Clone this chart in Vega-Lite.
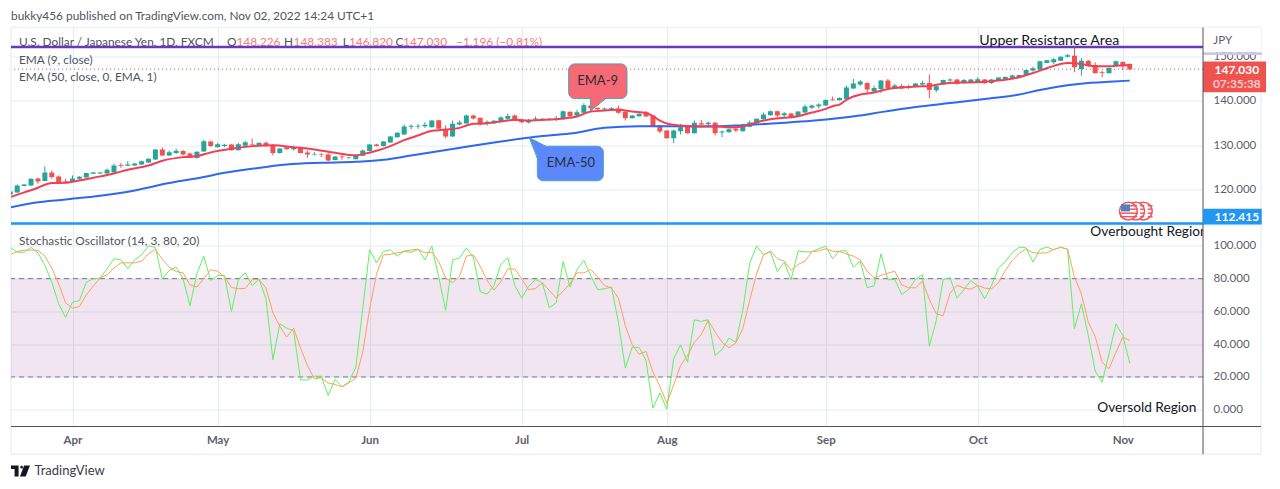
{
"$schema":"https://vega.github.io/schema/vega-lite/v6.json",
"background":"white",
"padding":{"left":9,"top":10.5,"right":0,"bottom":0},
"bounds":"flush",
"spacing":0,
"config":{"font":"Lato","view":{"stroke":null},"axis":{"title":null,"grid":true,"gridColor":"#e1ecf2","gridWidth":1,"domain":false,"ticks":false,"labelFont":"Lato","labelFontSize":11.5,"labelColor":"#5d606b"}},
"datasets":{
"one":[{"n":1}],
"bars":[
{"i":-9,"o":118.93,"h":119.7,"l":118.8,"c":119.61,"k":99.2,"d":94.7},
{"i":-8,"o":119.38,"h":121.18,"l":119.31,"c":120.95,"k":96.1,"d":96.5},
{"i":-7,"o":120.8,"h":121.3,"l":120.7,"c":121.18,"k":96.1,"d":97.4},
{"i":-6,"o":120.95,"h":122.5,"l":120.9,"c":122.44,"k":99.0,"d":97.4},
{"i":-5,"o":122.52,"h":122.6,"l":121.32,"c":121.85,"k":95.7,"d":97.2},
{"i":-4,"o":121.92,"h":125.21,"l":121.9,"c":123.86,"k":88.0,"d":93.7},
{"i":-3,"o":123.86,"h":124.31,"l":122.45,"c":122.82,"k":77.8,"d":86.4},
{"i":-2,"o":122.97,"h":123.19,"l":121.47,"c":121.62,"k":64.6,"d":76.8},
{"i":-1,"o":121.85,"h":122.45,"l":121.47,"c":121.7,"k":56.3,"d":65.2},
{"i":0,"o":121.77,"h":123.19,"l":121.7,"c":122.52,"k":65.6,"d":62.0},
{"i":1,"o":122.45,"h":123.04,"l":122.07,"c":122.89,"k":66.6,"d":63.0},
{"i":2,"o":122.74,"h":123.8,"l":122.7,"c":123.71,"k":77.8,"d":70.1},
{"i":3,"o":123.56,"h":124.0,"l":123.5,"c":123.86,"k":79.9,"d":75.4},
{"i":4,"o":123.64,"h":123.95,"l":123.55,"c":123.86,"k":80.3,"d":80.5},
{"i":5,"o":123.64,"h":124.76,"l":123.55,"c":124.46,"k":86.0,"d":82.3},
{"i":6,"o":123.86,"h":125.81,"l":123.8,"c":125.43,"k":92.1,"d":86.4},
{"i":7,"o":125.51,"h":125.96,"l":124.91,"c":125.36,"k":91.5,"d":89.6},
{"i":8,"o":125.36,"h":126.4,"l":125.28,"c":125.66,"k":86.0,"d":89.6},
{"i":9,"o":125.43,"h":126.0,"l":125.3,"c":125.88,"k":91.5,"d":89.6},
{"i":10,"o":125.66,"h":126.5,"l":125.6,"c":126.4,"k":94.5,"d":90.6},
{"i":11,"o":126.1,"h":127.0,"l":126.0,"c":126.93,"k":100,"d":95.1},
{"i":12,"o":126.78,"h":129.1,"l":126.7,"c":129.02,"k":99.0,"d":97.8},
{"i":13,"o":129.02,"h":129.47,"l":127.52,"c":127.67,"k":79.9,"d":91.7},
{"i":14,"o":127.67,"h":128.79,"l":127.6,"c":128.42,"k":85.0,"d":87.0},
{"i":15,"o":128.2,"h":129.17,"l":128.05,"c":128.72,"k":87.0,"d":84.3},
{"i":16,"o":128.65,"h":128.94,"l":127.67,"c":127.9,"k":79.9,"d":83.5},
{"i":17,"o":128.12,"h":128.35,"l":127.08,"c":127.15,"k":63.4,"d":76.2},
{"i":18,"o":127.08,"h":128.6,"l":127.0,"c":128.5,"k":82.9,"d":74.8},
{"i":19,"o":128.57,"h":131.19,"l":128.5,"c":130.89,"k":93.7,"d":79.9},
{"i":20,"o":130.81,"h":130.96,"l":129.54,"c":129.77,"k":78.9,"d":85.4},
{"i":21,"o":129.54,"h":130.44,"l":129.5,"c":130.21,"k":81.9,"d":84.5},
{"i":22,"o":129.77,"h":130.29,"l":129.54,"c":130.06,"k":81.9,"d":80.9},
{"i":23,"o":130.14,"h":130.2,"l":128.8,"c":128.87,"k":59.9,"d":74.6},
{"i":24,"o":128.87,"h":130.51,"l":128.8,"c":130.21,"k":79.3,"d":73.8},
{"i":25,"o":129.84,"h":130.9,"l":129.7,"c":130.66,"k":83.5,"d":74.0},
{"i":26,"o":130.21,"h":131.48,"l":129.92,"c":130.06,"k":75.8,"d":79.3},
{"i":27,"o":129.92,"h":130.6,"l":129.85,"c":130.51,"k":79.5,"d":79.5},
{"i":28,"o":130.51,"h":130.81,"l":129.54,"c":129.77,"k":67.7,"d":74.2},
{"i":29,"o":129.99,"h":130.14,"l":127.67,"c":128.2,"k":30.5,"d":59.1},
{"i":30,"o":128.2,"h":129.3,"l":128.1,"c":129.24,"k":52.4,"d":51.0},
{"i":31,"o":129.54,"h":129.7,"l":129.0,"c":129.09,"k":49.8,"d":44.3},
{"i":32,"o":129.09,"h":129.84,"l":128.79,"c":129.47,"k":48.2,"d":49.8},
{"i":33,"o":129.54,"h":129.6,"l":128.1,"c":128.2,"k":18.3,"d":37.6},
{"i":34,"o":128.35,"h":128.79,"l":127.15,"c":127.9,"k":18.1,"d":27.0},
{"i":35,"o":127.82,"h":128.42,"l":127.67,"c":127.97,"k":20.5,"d":18.9},
{"i":36,"o":127.9,"h":128.2,"l":127.3,"c":127.75,"k":20.5,"d":19.5},
{"i":37,"o":127.9,"h":128.2,"l":126.33,"c":126.55,"k":8.7,"d":16.4},
{"i":38,"o":126.63,"h":127.5,"l":126.55,"c":127.45,"k":18.5,"d":15.4},
{"i":39,"o":127.45,"h":127.9,"l":126.7,"c":127.3,"k":14.2,"d":14.0},
{"i":40,"o":127.08,"h":127.4,"l":126.9,"c":127.23,"k":16.8,"d":16.4},
{"i":41,"o":126.85,"h":127.9,"l":126.8,"c":127.82,"k":26.0,"d":19.3},
{"i":42,"o":127.6,"h":129.0,"l":127.5,"c":128.79,"k":61.6,"d":35.1},
{"i":43,"o":128.65,"h":130.2,"l":128.6,"c":130.14,"k":97.6,"d":61.6},
{"i":44,"o":130.14,"h":130.3,"l":129.7,"c":129.77,"k":89.6,"d":82.9},
{"i":45,"o":129.77,"h":130.9,"l":129.7,"c":130.81,"k":96.5,"d":94.5},
{"i":46,"o":130.59,"h":132.0,"l":130.5,"c":131.93,"k":97.6,"d":94.7},
{"i":47,"o":131.78,"h":132.9,"l":131.7,"c":132.75,"k":93.7,"d":95.7},
{"i":48,"o":132.38,"h":134.62,"l":132.3,"c":134.17,"k":96.9,"d":96.5},
{"i":49,"o":134.1,"h":134.62,"l":133.5,"c":134.32,"k":97.4,"d":96.1},
{"i":50,"o":134.17,"h":134.77,"l":133.65,"c":134.32,"k":98.0,"d":97.8},
{"i":51,"o":134.25,"h":135.14,"l":133.87,"c":134.55,"k":91.5,"d":95.7},
{"i":52,"o":134.02,"h":135.6,"l":133.95,"c":135.52,"k":99.8,"d":96.1},
{"i":53,"o":135.59,"h":135.67,"l":133.58,"c":133.65,"k":80.9,"d":90.4},
{"i":54,"o":133.58,"h":134.47,"l":131.48,"c":131.93,"k":60.6,"d":80.3},
{"i":55,"o":131.93,"h":135.52,"l":131.9,"c":134.77,"k":91.3,"d":77.4},
{"i":56,"o":134.62,"h":135.52,"l":134.47,"c":135.07,"k":92.5,"d":81.5},
{"i":57,"o":134.85,"h":136.86,"l":134.8,"c":136.64,"k":98.6,"d":93.7},
{"i":58,"o":136.64,"h":136.86,"l":135.74,"c":135.97,"k":93.1,"d":94.5},
{"i":59,"o":136.12,"h":136.2,"l":134.4,"c":134.62,"k":72.1,"d":87.6},
{"i":60,"o":134.85,"h":135.52,"l":134.4,"c":135.22,"k":70.5,"d":78.9},
{"i":61,"o":134.85,"h":135.6,"l":134.8,"c":135.44,"k":75.8,"d":73.0},
{"i":62,"o":135.29,"h":136.49,"l":135.2,"c":136.19,"k":88.8,"d":78.2},
{"i":63,"o":135.89,"h":137.09,"l":135.67,"c":136.56,"k":92.7,"d":86.0},
{"i":64,"o":136.64,"h":136.86,"l":135.37,"c":135.52,"k":75.8,"d":85.8},
{"i":65,"o":135.74,"h":135.89,"l":134.92,"c":135.14,"k":68.1,"d":79.9},
{"i":66,"o":135.07,"h":135.89,"l":134.85,"c":135.52,"k":75.2,"d":73.2},
{"i":67,"o":135.74,"h":136.41,"l":135.44,"c":135.97,"k":79.5,"d":74.0},
{"i":68,"o":135.74,"h":136.1,"l":135.6,"c":135.89,"k":77.4,"d":77.4},
{"i":69,"o":135.67,"h":136.0,"l":135.5,"c":135.89,"k":62.2,"d":72.8},
{"i":70,"o":135.74,"h":136.56,"l":135.37,"c":135.97,"k":65.2,"d":68.1},
{"i":71,"o":135.82,"h":137.76,"l":135.8,"c":137.61,"k":90.4,"d":72.4},
{"i":72,"o":137.46,"h":137.53,"l":136.12,"c":136.49,"k":74.8,"d":76.8},
{"i":73,"o":136.64,"h":137.91,"l":136.41,"c":137.39,"k":85.4,"d":83.5},
{"i":74,"o":137.24,"h":139.4,"l":137.2,"c":138.95,"k":91.1,"d":83.5},
{"i":75,"o":138.88,"h":139.03,"l":137.61,"c":138.28,"k":81.9,"d":85.6},
{"i":76,"o":138.36,"h":138.4,"l":137.9,"c":138.06,"k":73.2,"d":80.9},
{"i":77,"o":137.98,"h":138.43,"l":137.9,"c":138.21,"k":73.8,"d":75.8},
{"i":78,"o":137.91,"h":138.51,"l":137.8,"c":138.28,"k":74.8,"d":74.2},
{"i":79,"o":138.21,"h":138.88,"l":137.01,"c":137.24,"k":53.4,"d":68.1},
{"i":80,"o":137.46,"h":137.76,"l":135.52,"c":136.04,"k":25.4,"d":51.4},
{"i":81,"o":136.04,"h":136.7,"l":136.0,"c":136.64,"k":38.2,"d":39.6},
{"i":82,"o":136.49,"h":137.1,"l":136.4,"c":137.01,"k":38.0,"d":33.9},
{"i":83,"o":137.24,"h":137.61,"l":136.3,"c":136.41,"k":30.1,"d":35.6},
{"i":84,"o":136.64,"h":136.7,"l":134.2,"c":134.25,"k":1.0,"d":22.9},
{"i":85,"o":134.4,"h":134.55,"l":132.68,"c":133.05,"k":10.3,"d":14.4},
{"i":86,"o":133.28,"h":133.4,"l":131.5,"c":131.56,"k":0.4,"d":4.0},
{"i":87,"o":131.56,"h":133.43,"l":130.44,"c":133.28,"k":31.1,"d":15.2},
{"i":88,"o":133.13,"h":134.77,"l":132.38,"c":134.02,"k":39.6,"d":27.0},
{"i":89,"o":134.4,"h":134.5,"l":132.6,"c":132.68,"k":29.0,"d":33.1},
{"i":90,"o":132.68,"h":135.52,"l":132.6,"c":134.99,"k":54.9,"d":41.2},
{"i":91,"o":134.92,"h":135.67,"l":134.17,"c":134.62,"k":53.9,"d":45.9},
{"i":92,"o":134.7,"h":135.29,"l":134.02,"c":134.99,"k":54.9,"d":54.5},
{"i":93,"o":134.99,"h":135.22,"l":132.16,"c":132.68,"k":33.1,"d":47.3},
{"i":94,"o":132.83,"h":133.28,"l":131.78,"c":133.05,"k":36.8,"d":41.2},
{"i":95,"o":132.9,"h":133.7,"l":132.8,"c":133.58,"k":43.7,"d":37.8},
{"i":96,"o":133.65,"h":134.4,"l":132.9,"c":133.28,"k":41.2,"d":40.8},
{"i":97,"o":133.13,"h":134.77,"l":133.05,"c":134.17,"k":60.6,"d":49.4},
{"i":98,"o":134.1,"h":135.52,"l":134.0,"c":135.07,"k":89.4,"d":66.7},
{"i":99,"o":134.85,"h":136.0,"l":134.8,"c":135.89,"k":100,"d":82.9},
{"i":100,"o":135.82,"h":137.31,"l":135.7,"c":136.86,"k":94.5,"d":94.5},
{"i":101,"o":136.71,"h":137.76,"l":136.6,"c":137.61,"k":96.5,"d":96.9},
{"i":102,"o":137.61,"h":137.76,"l":135.89,"c":136.64,"k":84.3,"d":92.1},
{"i":103,"o":136.71,"h":137.39,"l":136.12,"c":137.16,"k":90.0,"d":90.6},
{"i":104,"o":137.09,"h":137.24,"l":136.04,"c":136.19,"k":79.3,"d":85.0},
{"i":105,"o":136.49,"h":137.6,"l":136.4,"c":137.53,"k":96.9,"d":88.6},
{"i":106,"o":137.31,"h":139.1,"l":137.2,"c":138.65,"k":96.3,"d":90.6},
{"i":107,"o":138.36,"h":139.1,"l":138.06,"c":138.88,"k":96.3,"d":96.5},
{"i":108,"o":138.73,"h":139.4,"l":138.21,"c":139.1,"k":98.2,"d":96.9},
{"i":109,"o":138.88,"h":140.3,"l":138.8,"c":140.15,"k":99.8,"d":98.2},
{"i":110,"o":140.22,"h":140.9,"l":140.0,"c":140.07,"k":92.1,"d":96.7},
{"i":111,"o":140.07,"h":140.7,"l":140.0,"c":140.6,"k":96.9,"d":96.5},
{"i":112,"o":140.37,"h":143.36,"l":140.3,"c":142.91,"k":96.9,"d":95.1},
{"i":113,"o":142.69,"h":144.86,"l":142.6,"c":143.81,"k":87.0,"d":93.7},
{"i":114,"o":143.59,"h":144.63,"l":143.29,"c":144.26,"k":90.6,"d":91.3},
{"i":115,"o":143.96,"h":144.1,"l":141.64,"c":142.47,"k":74.4,"d":84.5},
{"i":116,"o":142.02,"h":143.36,"l":141.9,"c":142.84,"k":75.6,"d":80.5},
{"i":117,"o":142.61,"h":144.63,"l":141.64,"c":144.48,"k":95.1,"d":81.9},
{"i":118,"o":144.48,"h":144.86,"l":142.76,"c":142.84,"k":79.3,"d":83.3},
{"i":119,"o":142.69,"h":143.74,"l":142.61,"c":143.36,"k":79.5,"d":84.5},
{"i":120,"o":143.29,"h":143.74,"l":142.54,"c":142.76,"k":70.3,"d":76.2},
{"i":121,"o":142.99,"h":143.59,"l":142.61,"c":143.21,"k":73.4,"d":74.4},
{"i":122,"o":143.06,"h":143.9,"l":143.0,"c":143.81,"k":79.5,"d":74.4},
{"i":123,"o":143.59,"h":144.48,"l":143.36,"c":143.96,"k":82.3,"d":78.4},
{"i":124,"o":143.96,"h":145.83,"l":140.52,"c":142.39,"k":38.8,"d":67.3},
{"i":125,"o":142.32,"h":143.44,"l":141.87,"c":143.21,"k":54.5,"d":58.5},
{"i":126,"o":143.59,"h":144.7,"l":143.5,"c":144.63,"k":79.5,"d":57.3},
{"i":127,"o":144.48,"h":145.0,"l":143.74,"c":144.71,"k":80.5,"d":71.1},
{"i":128,"o":144.71,"h":144.86,"l":143.59,"c":143.74,"k":68.1,"d":76.0},
{"i":129,"o":144.03,"h":144.86,"l":143.74,"c":144.63,"k":73.2,"d":74.2},
{"i":130,"o":144.18,"h":144.8,"l":144.1,"c":144.71,"k":78.9,"d":73.6},
{"i":131,"o":144.18,"h":145.23,"l":144.1,"c":144.78,"k":75.4,"d":75.8},
{"i":132,"o":144.71,"h":144.8,"l":143.8,"c":143.88,"k":67.7,"d":74.2},
{"i":133,"o":143.96,"h":144.86,"l":143.74,"c":144.71,"k":75.8,"d":73.8},
{"i":134,"o":144.48,"h":145.2,"l":144.4,"c":145.15,"k":86.4,"d":77.4},
{"i":135,"o":144.78,"h":145.4,"l":144.7,"c":145.3,"k":90.4,"d":85.0},
{"i":136,"o":145.08,"h":145.83,"l":145.0,"c":145.6,"k":95.7,"d":91.1},
{"i":137,"o":145.23,"h":145.8,"l":145.2,"c":145.75,"k":99.2,"d":95.3},
{"i":138,"o":145.6,"h":146.9,"l":145.5,"c":146.87,"k":98.8,"d":98.2},
{"i":139,"o":146.72,"h":147.62,"l":146.5,"c":147.25,"k":90.0,"d":95.7},
{"i":140,"o":146.95,"h":148.9,"l":146.9,"c":148.81,"k":97.8,"d":95.5},
{"i":141,"o":148.44,"h":149.1,"l":148.4,"c":149.04,"k":99.2,"d":95.7},
{"i":142,"o":148.59,"h":149.56,"l":148.22,"c":149.26,"k":97.6,"d":97.8},
{"i":143,"o":148.96,"h":149.9,"l":148.9,"c":149.86,"k":99.2,"d":99.0},
{"i":144,"o":149.86,"h":150.46,"l":149.71,"c":150.16,"k":97.8,"d":98.0},
{"i":145,"o":150.08,"h":151.95,"l":146.35,"c":147.47,"k":49.4,"d":80.9},
{"i":146,"o":147.1,"h":149.56,"l":145.6,"c":148.96,"k":64.6,"d":70.7},
{"i":147,"o":148.96,"h":149.11,"l":147.62,"c":147.69,"k":45.3,"d":53.4},
{"i":148,"o":147.99,"h":148.59,"l":146.1,"c":146.13,"k":23.6,"d":44.7},
{"i":149,"o":146.35,"h":146.72,"l":145.23,"c":146.2,"k":16.8,"d":29.0},
{"i":150,"o":146.13,"h":147.4,"l":146.1,"c":147.32,"k":34.1,"d":25.0},
{"i":151,"o":147.84,"h":148.96,"l":147.8,"c":148.81,"k":52.4,"d":35.1},
{"i":152,"o":148.67,"h":148.81,"l":146.87,"c":147.69,"k":45.3,"d":44.3},
{"i":153,"o":148.226,"h":148.383,"l":146.82,"c":147.03,"k":28.4,"d":42.3}
],
"ema9":[
{"i":-9,"p":118.34},{"i":-7,"p":119.38},{"i":-5,"p":120.43},{"i":-4,"p":121.1},{"i":-3,"p":121.47},{"i":-1,"p":121.55},{"i":1,"p":122.07},{"i":3,"p":122.67},{"i":6,"p":123.64},{"i":8,"p":124.46},{"i":11,"p":125.43},{"i":13,"p":126.48},{"i":16,"p":127.3},{"i":18,"p":127.52},{"i":20,"p":128.35},{"i":23,"p":129.17},{"i":26,"p":129.77},{"i":29,"p":129.99},{"i":32,"p":129.54},{"i":35,"p":129.02},{"i":38,"p":128.27},{"i":41,"p":127.67},{"i":42,"p":127.97},{"i":44,"p":128.72},{"i":46,"p":129.77},{"i":48,"p":131.11},{"i":50,"p":132.16},{"i":52,"p":133.2},{"i":54,"p":133.5},{"i":56,"p":133.87},{"i":57,"p":134.4},{"i":58,"p":134.77},{"i":60,"p":134.92},{"i":62,"p":135.29},{"i":64,"p":135.67},{"i":66,"p":135.52},{"i":69,"p":135.74},{"i":71,"p":135.97},{"i":73,"p":136.41},{"i":75,"p":137.53},{"i":77,"p":137.76},{"i":79,"p":137.91},{"i":81,"p":137.53},{"i":83,"p":137.24},{"i":84,"p":136.49},{"i":85,"p":135.52},{"i":86,"p":134.85},{"i":88,"p":134.4},{"i":90,"p":134.17},{"i":93,"p":134.25},{"i":95,"p":133.95},{"i":97,"p":134.17},{"i":99,"p":135.14},{"i":101,"p":135.82},{"i":103,"p":136.12},{"i":105,"p":136.49},{"i":107,"p":137.31},{"i":109,"p":138.13},{"i":110,"p":138.73},{"i":111,"p":139.1},{"i":112,"p":140.15},{"i":113,"p":140.9},{"i":114,"p":141.34},{"i":116,"p":141.79},{"i":118,"p":142.61},{"i":120,"p":142.91},{"i":123,"p":143.21},{"i":124,"p":143.29},{"i":126,"p":143.81},{"i":128,"p":144.03},{"i":131,"p":144.11},{"i":134,"p":144.48},{"i":137,"p":145.23},{"i":139,"p":146.2},{"i":141,"p":147.25},{"i":143,"p":148.22},{"i":144,"p":148.44},{"i":146,"p":148.22},{"i":148,"p":147.69},{"i":150,"p":147.69},{"i":152,"p":147.92},{"i":153,"p":147.92}
],
"ema50":[
{"i":-9,"p":116.02},{"i":-5.5,"p":117.07},{"i":-1,"p":117.81},{"i":4,"p":118.64},{"i":9,"p":119.83},{"i":14,"p":121.47},{"i":19,"p":122.82},{"i":21,"p":123.49},{"i":26,"p":124.69},{"i":31,"p":125.66},{"i":36,"p":126.03},{"i":41,"p":126.26},{"i":45,"p":126.7},{"i":49,"p":127.67},{"i":52,"p":128.42},{"i":57,"p":129.62},{"i":62,"p":130.81},{"i":67,"p":131.86},{"i":72,"p":132.6},{"i":77,"p":133.87},{"i":82,"p":134.25},{"i":87,"p":134.25},{"i":92,"p":134.17},{"i":97,"p":134.47},{"i":102,"p":134.92},{"i":107,"p":135.44},{"i":112,"p":136.25},{"i":114,"p":136.65},{"i":117,"p":137.4},{"i":122,"p":138.55},{"i":127,"p":139.45},{"i":132,"p":140.37},{"i":137,"p":141.34},{"i":140,"p":142.39},{"i":144,"p":143.44},{"i":147,"p":143.96},{"i":150,"p":144.2},{"i":153,"p":144.48}
]
},
"vconcat":[
{
"width":1192,"height":196,
"layer":[
{"data":{"name":"one"},"mark":{"type":"rect","fill":null,"stroke":"#f0f3fa","strokeWidth":2},
 "encoding":{
  "x":{"datum":-8.9,"type":"quantitative","scale":{"domain":[-8.9,163.6],"nice":false,"zero":false,"padding":0},"axis":{"values":[0,21,43,65,86,109,131,152],"labels":false}},
  "x2":{"datum":172},
  "y":{"datum":156.4,"type":"quantitative","scale":{"domain":[112.4,156.4],"nice":false,"zero":false},"axis":{"orient":"right","values":[120,130,140,150],"format":".3f","labelPadding":10}},
  "y2":{"datum":112.4}}},
{"data":{"values":[
 {"t":"U.S. Dollar / Japanese Yen, 1D, FXCM","i":-7.74,"p":153.07},
 {"t":"O","i":22.35,"p":153.07},{"t":"H","i":30.6,"p":153.07},{"t":"L","i":39.1,"p":153.07},{"t":"C","i":46.75,"p":153.07},
 {"t":"EMA (9, close)","i":-7.74,"p":149.19},
 {"t":"EMA (50, close, 0, EMA, 1)","i":-7.74,"p":145.38},
 {"t":"bukky456 published on TradingView.com, Nov 02, 2022 14:24 UTC+1","i":-8.9,"p":159.06}
 ]},
 "mark":{"type":"text","align":"left","baseline":"middle","fontSize":11.85,"color":"#50535e"},
 "encoding":{"x":{"field":"i","type":"quantitative"},"y":{"field":"p","type":"quantitative"},"text":{"field":"t"}}},
{"data":{"values":[
 {"t":"148.226","i":23.73,"p":153.07},{"t":"148.383","i":32.0,"p":153.07},{"t":"146.820","i":40.0,"p":153.07},{"t":"147.030","i":47.83,"p":153.07},{"t":"−1.196 (−0.81%)","i":55.5,"p":153.07}
 ]},
 "mark":{"type":"text","align":"left","baseline":"middle","fontSize":11.85,"color":"#f27c7a"},
 "encoding":{"x":{"field":"i","type":"quantitative"},"y":{"field":"p","type":"quantitative"},"text":{"field":"t"}}},
{"data":{"name":"one"},"mark":{"type":"rule","color":"#ef5350","strokeWidth":1,"strokeDash":[1,3]},"encoding":{"y":{"datum":147.03}}},
{"data":{"name":"one"},"mark":{"type":"rule","color":"#673ab7","strokeWidth":2.5},"encoding":{"y":{"datum":152}}},
{"data":{"name":"bars"},"mark":{"type":"rule","strokeWidth":1,"clip":true},
 "encoding":{"x":{"field":"i","type":"quantitative"},"y":{"field":"l","type":"quantitative"},"y2":{"field":"h"},
  "color":{"condition":{"test":"datum.c>=datum.o","value":"#26a69a"},"value":"#ef5350"}}},
{"data":{"name":"bars"},"mark":{"type":"bar","size":5,"clip":true},
 "encoding":{"x":{"field":"i","type":"quantitative"},"y":{"field":"o","type":"quantitative"},"y2":{"field":"c"},
  "color":{"condition":{"test":"datum.c>=datum.o","value":"#26a69a"},"value":"#ef5350"}}},
{"data":{"name":"ema50"},"mark":{"type":"line","color":"#2f66f2","strokeWidth":2,"interpolate":"monotone","clip":true},
 "encoding":{"x":{"field":"i","type":"quantitative"},"y":{"field":"p","type":"quantitative"}}},
{"data":{"name":"ema9"},"mark":{"type":"line","color":"#f23f55","strokeWidth":2,"interpolate":"monotone","clip":true},
 "encoding":{"x":{"field":"i","type":"quantitative"},"y":{"field":"p","type":"quantitative"}}},
{"data":{"values":[{"t":"Upper Resistance Area","i":141.35,"p":153.45}]},
 "mark":{"type":"text","align":"center","baseline":"middle","fontSize":14.2,"color":"#131722"},
 "encoding":{"x":{"field":"i","type":"quantitative"},"y":{"field":"p","type":"quantitative"},"text":{"field":"t"}}},
{"data":{"values":[{"a":71.8,"b":80.24,"p":148.23,"q":140.45}]},
 "mark":{"type":"rect","fill":"#f56a75","stroke":"#4fa3b5","strokeWidth":1,"cornerRadius":6},
 "encoding":{"x":{"field":"a","type":"quantitative"},"x2":{"field":"b"},"y":{"field":"p","type":"quantitative"},"y2":{"field":"q"}}},
{"data":{"values":[{"i":74.93,"p":140.6,"q":140.6},{"i":75.03,"p":140.6,"q":137.76},{"i":77.2,"p":140.6,"q":140.6}]},
 "mark":{"type":"area","fill":"#f56a75"},
 "encoding":{"x":{"field":"i","type":"quantitative"},"y":{"field":"p","type":"quantitative"},"y2":{"field":"q"}}},
{"data":{"values":[{"i":74.93,"p":140.45},{"i":75.03,"p":137.76},{"i":77.2,"p":140.45}]},
 "mark":{"type":"line","color":"#4fa3b5","strokeWidth":1},
 "encoding":{"x":{"field":"i","type":"quantitative"},"y":{"field":"p","type":"quantitative"}}},
{"data":{"values":[{"a":67.27,"b":76.82,"p":129.75,"q":122.0}]},
 "mark":{"type":"rect","fill":"#5b88fb","stroke":"#4fa3b5","strokeWidth":1,"cornerRadius":6},
 "encoding":{"x":{"field":"a","type":"quantitative"},"x2":{"field":"b"},"y":{"field":"p","type":"quantitative"},"y2":{"field":"q"}}},
{"data":{"values":[{"i":66.11,"p":131.64,"q":131.64},{"i":67.4,"p":130.7,"q":126.9},{"i":68.5,"p":129.6,"q":129.6}]},
 "mark":{"type":"area","fill":"#5b88fb"},
 "encoding":{"x":{"field":"i","type":"quantitative"},"y":{"field":"p","type":"quantitative"},"y2":{"field":"q"}}},
{"data":{"values":[{"e":"a","i":66.11,"p":131.64},{"e":"a","i":68.5,"p":129.75},{"e":"b","i":66.11,"p":131.64},{"e":"b","i":67.27,"p":127.0}]},
 "mark":{"type":"line","color":"#4fa3b5","strokeWidth":1},
 "encoding":{"x":{"field":"i","type":"quantitative"},"y":{"field":"p","type":"quantitative"},"detail":{"field":"e"}}},
{"data":{"values":[{"t":"EMA-9","i":76.0,"p":144.48},{"t":"EMA-50","i":72.14,"p":125.99}]},
 "mark":{"type":"text","align":"center","baseline":"middle","fontSize":13,"color":"#2a2e39"},
 "encoding":{"x":{"field":"i","type":"quantitative"},"y":{"field":"p","type":"quantitative"},"text":{"field":"t"}}},
{"data":{"values":[{"i":154.96},{"i":153.87},{"i":152.8}]},
 "mark":{"type":"point","shape":"circle","filled":true,"fill":"#ffffff","stroke":"#f0575d","strokeWidth":1.5,"size":314,"opacity":1},
 "encoding":{"x":{"field":"i","type":"quantitative"},"y":{"datum":115.18,"type":"quantitative"}}},
{"data":{"values":[
 {"a":153.05,"b":154.06,"p":116.57,"q":116.23},{"a":153.05,"b":154.2,"p":115.78,"q":115.45},{"a":151.45,"b":154.2,"p":114.89,"q":114.55},{"a":151.59,"b":154.06,"p":114.1,"q":113.77},
 {"a":154.5,"b":155.1,"p":116.57,"q":116.23},{"a":154.5,"b":155.1,"p":115.78,"q":115.45},{"a":154.5,"b":155.1,"p":114.89,"q":114.55},{"a":154.5,"b":155.1,"p":114.1,"q":113.77},
 {"a":155.6,"b":156.3,"p":116.57,"q":116.23},{"a":155.6,"b":156.3,"p":115.78,"q":115.45},{"a":155.6,"b":156.3,"p":114.89,"q":114.55},{"a":155.6,"b":156.3,"p":114.1,"q":113.77}
 ]},
 "mark":{"type":"rect","fill":"#f0575d"},
 "encoding":{"x":{"field":"a","type":"quantitative"},"x2":{"field":"b"},"y":{"field":"p","type":"quantitative"},"y2":{"field":"q"}}},
{"data":{"values":[{"a":151.74,"b":153.05,"p":116.68,"q":115.11}]},
 "mark":{"type":"rect","fill":"#4f7fc4"},
 "encoding":{"x":{"field":"a","type":"quantitative"},"x2":{"field":"b"},"y":{"field":"p","type":"quantitative"},"y2":{"field":"q"}}},
{"data":{"values":[{"a":163.6,"b":172,"p":156.3,"q":150.87}]},
 "mark":{"type":"rect","fill":"#ffffff"},
 "encoding":{"x":{"field":"a","type":"quantitative"},"x2":{"field":"b"},"y":{"field":"p","type":"quantitative"},"y2":{"field":"q"}}},
{"data":{"values":[{"a":163.6,"b":172.1,"p":150.87,"q":150.2}]},
 "mark":{"type":"rect","fill":"#d1c4e9"},
 "encoding":{"x":{"field":"a","type":"quantitative"},"x2":{"field":"b"},"y":{"field":"p","type":"quantitative"},"y2":{"field":"q"}}},
{"data":{"values":[{"a":163.6,"b":172.72,"p":148.74,"q":141.86}]},
 "mark":{"type":"rect","fill":"#ef5350"},
 "encoding":{"x":{"field":"a","type":"quantitative"},"x2":{"field":"b"},"y":{"field":"p","type":"quantitative"},"y2":{"field":"q"}}},
{"data":{"values":[{"t":"147.030","i":168.5,"p":146.79}]},
 "mark":{"type":"text","align":"center","baseline":"middle","fontSize":12,"fontWeight":"bold","color":"#ffffff"},
 "encoding":{"x":{"field":"i","type":"quantitative"},"y":{"field":"p","type":"quantitative"},"text":{"field":"t"}}},
{"data":{"values":[{"t":"07:35:38","i":168.5,"p":143.65}]},
 "mark":{"type":"text","align":"center","baseline":"middle","fontSize":12,"fontWeight":"bold","color":"#fbc9c8"},
 "encoding":{"x":{"field":"i","type":"quantitative"},"y":{"field":"p","type":"quantitative"},"text":{"field":"t"}}},
{"data":{"values":[{"t":"JPY","i":165.1,"p":153.3}]},
 "mark":{"type":"text","align":"left","baseline":"middle","fontSize":11.5,"color":"#5d606b"},
 "encoding":{"x":{"field":"i","type":"quantitative"},"y":{"field":"p","type":"quantitative"},"text":{"field":"t"}}},
{"data":{"name":"one"},"mark":{"type":"rule","color":"#50535e","strokeWidth":1},"encoding":{"x":{"datum":163.6}}}
]
},
{
"width":1192,"height":203,
"layer":[
{"data":{"name":"one"},"mark":{"type":"rect","fill":null,"stroke":"#f0f3fa","strokeWidth":2},
 "encoding":{
  "x":{"datum":-8.9,"type":"quantitative","scale":{"domain":[-8.9,163.6],"nice":false,"zero":false},"axis":{"values":[0,21,43,65,86,109,131,152],"labelPadding":8,"labelFontWeight":"bold","labelExpr":"['Apr','May','Jun','Jul','Aug','Sep','Oct','Nov'][indexof([0,21,43,65,86,109,131,152],datum.value)]"}},
  "x2":{"datum":172},
  "y":{"datum":112.9,"type":"quantitative","scale":{"domain":[-10.2,113.6],"nice":false,"zero":false},"axis":{"orient":"right","values":[0,20,40,60,80,100],"format":".3f","labelPadding":10}},
  "y2":{"datum":-27.1}}},
{"data":{"name":"one"},"mark":{"type":"rect","fill":"#8a2b8a","opacity":0.12},"encoding":{"y":{"datum":80},"y2":{"datum":20}}},
{"data":{"values":[{"v":80},{"v":20}]},"mark":{"type":"rule","color":"#787b86","strokeWidth":1,"strokeDash":[5,4]},"encoding":{"y":{"field":"v","type":"quantitative"}}},
{"data":{"name":"bars"},"mark":{"type":"line","color":"#5df25d","strokeWidth":1,"clip":true},
 "encoding":{"x":{"field":"i","type":"quantitative"},"y":{"field":"k","type":"quantitative"}}},
{"data":{"name":"bars"},"mark":{"type":"line","color":"#ff9f5a","strokeWidth":1,"clip":true},
 "encoding":{"x":{"field":"i","type":"quantitative"},"y":{"field":"d","type":"quantitative"}}},
{"data":{"values":[{"t":"Stochastic Oscillator (14, 3, 80, 20)","i":-7.74,"v":103.2}]},
 "mark":{"type":"text","align":"left","baseline":"middle","fontSize":11.85,"color":"#50535e"},
 "encoding":{"x":{"field":"i","type":"quantitative"},"y":{"field":"v","type":"quantitative"},"text":{"field":"t"}}},
{"data":{"values":[{"t":"Overbought Region","i":147.3,"v":108.7},{"t":"Oversold Region","i":148.3,"v":0.8}]},
 "mark":{"type":"text","align":"left","baseline":"middle","fontSize":13.7,"color":"#131722","clip":true},
 "encoding":{"x":{"field":"i","type":"quantitative"},"y":{"field":"v","type":"quantitative"},"text":{"field":"t"}}},
{"data":{"values":[{"t":"TradingView","i":-5.5,"v":-37.6}]},
 "mark":{"type":"text","align":"left","baseline":"middle","fontSize":13,"color":"#3a3d47"},
 "encoding":{"x":{"field":"i","type":"quantitative"},"y":{"field":"v","type":"quantitative"},"text":{"field":"t"}}},
{"data":{"values":[{"i":-7.53,"v":-37.3}]},
 "mark":{"type":"point","filled":true,"fill":"#131722","stroke":null,"opacity":1,"size":361,"shape":"M-1 -.58H-.2V.58H-.62V-.2H-1ZM-.02 -.4a.14.14 0 1 0 .28 0a.14.14 0 1 0 -.28 0ZM.38 -.58H1L.55 .58H-.05Z"},
 "encoding":{"x":{"field":"i","type":"quantitative"},"y":{"field":"v","type":"quantitative"}}},
{"data":{"name":"one"},"mark":{"type":"rule","color":"#2196f3","strokeWidth":2.5},"encoding":{"y":{"datum":113.6}}},
{"data":{"values":[{"a":163.6,"b":172.1,"p":122.6,"q":113.0}]},
 "mark":{"type":"rect","fill":"#2196f3"},
 "encoding":{"x":{"field":"a","type":"quantitative"},"x2":{"field":"b"},"y":{"field":"p","type":"quantitative"},"y2":{"field":"q"}}},
{"data":{"values":[{"t":"112.415","i":168.5,"v":117.4}]},
 "mark":{"type":"text","align":"center","baseline":"middle","fontSize":12,"fontWeight":"bold","color":"#ffffff"},
 "encoding":{"x":{"field":"i","type":"quantitative"},"y":{"field":"v","type":"quantitative"},"text":{"field":"t"}}},
{"data":{"name":"one"},"mark":{"type":"rule","color":"#50535e","strokeWidth":1},"encoding":{"x":{"datum":-8.9},"x2":{"datum":172},"y":{"datum":-10.2}}},
{"data":{"name":"one"},"mark":{"type":"rule","color":"#50535e","strokeWidth":1},"encoding":{"x":{"datum":163.6},"y":{"datum":113.6},"y2":{"datum":-27.1}}}
]
}
]
}
